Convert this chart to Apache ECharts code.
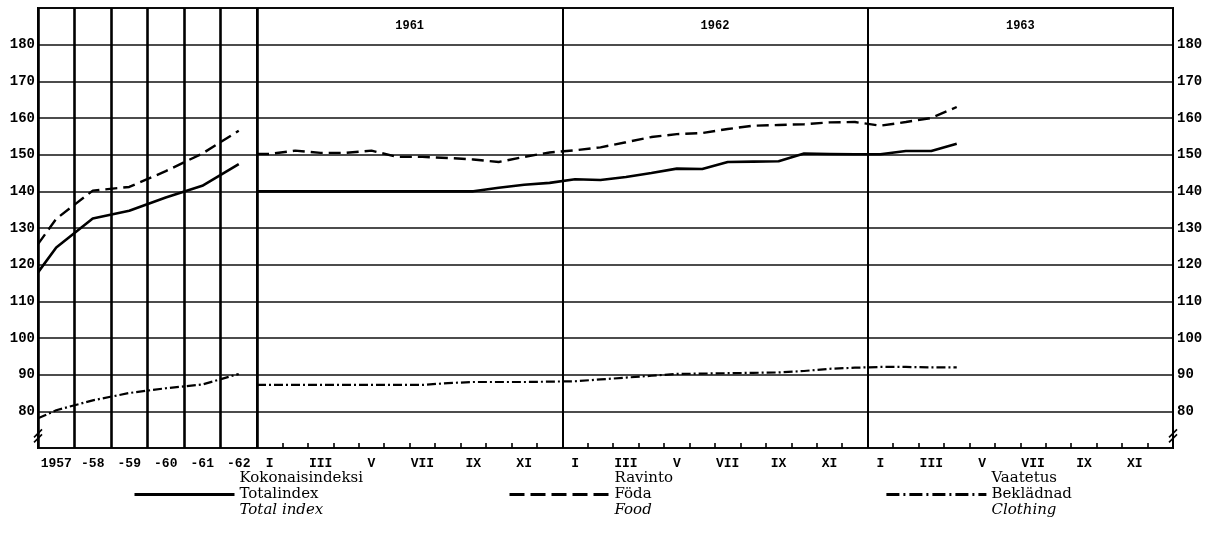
<!DOCTYPE html>
<html>
<head>
<meta charset="utf-8">
<script src="https://cdn.jsdelivr.net/npm/echarts@6/dist/echarts.min.js"></script>
<style>html,body{margin:0;padding:0;background:#fff}#c{width:1210px;height:534px}</style>
</head>
<body>
<div id="c"></div>
<script>
// ---- data ----
const years = ['1957', '-58', '-59', '-60', '-61', '-62'];
const monthNames = ['I','II','III','IV','V','VI','VII','VIII','IX','X','XI','XII'];
const topYears = ['1961', '1962', '1963'];
const yTickLabels = [80, 90, 100, 110, 120, 130, 140, 150, 160, 170, 180];

// annual values (plotted mid-year), with the value at the left edge
const totalStart = 117.9;
const totalAnnual = [124.7, 132.6, 134.7, 138.3, 141.5, 147.4];
const foodStart = 125.6;
const foodAnnual = [132.5, 140.2, 141.2, 145.5, 150.3, 156.5];
const clothStart = 78.1;
const clothAnnual = [80.3, 83.0, 85.0, 86.3, 87.3, 90.2];

// monthly values Jan 1961 .. Apr 1963 (plotted mid-month)
const totalMonthly = [
  140, 140, 140, 140, 140, 140, 140, 140, 140, 141, 141.8, 142.3,
  143.3, 143.1, 143.9, 145.0, 146.2, 146.1, 148.0, 148.1, 148.2, 150.3, 150.2, 150.1,
  150.1, 151.0, 151.0, 153.0
];
const foodMonthly = [
  150.2, 151.1, 150.5, 150.5, 151.1, 149.4, 149.4, 149.1, 148.7, 148.0, 149.4, 150.6,
  151.2, 152.0, 153.4, 154.8, 155.6, 155.9, 157.0, 157.9, 158.1, 158.3, 158.8, 158.9,
  157.9, 158.9, 160.0, 163.0
];
const clothMonthly = [
  87.2, 87.2, 87.2, 87.2, 87.2, 87.2, 87.2, 87.7, 88.0, 88.0, 88.0, 88.1,
  88.2, 88.7, 89.2, 89.7, 90.2, 90.3, 90.4, 90.5, 90.6, 91.0, 91.6, 91.9,
  92.1, 92.1, 92.0, 92.0
];

const legendText = {
  'Totalindex': ['Kokonaisindeksi', 'Totalindex', 'Total index'],
  'Föda': ['Ravinto', 'Föda', 'Food'],
  'Beklädnad': ['Vaatetus', 'Beklädnad', 'Clothing']
};

// ---- build ----
const monthCats = [];
for (let y = 0; y < 3; y++) monthNames.forEach(m => monthCats.push(m));

function annual(start, vals) {
  return [[0, start]].concat(vals.map((v, i) => [i + 0.5, v]));
}
function monthly(vals) {
  return [[0, vals[0]]].concat(vals.map((v, i) => [i + 0.5, v]));
}

const BLACK = '#111';
const monoFont = "'Liberation Mono', 'DejaVu Sans Mono', monospace";
const serifFont = "'DejaVu Serif', 'Liberation Serif', serif";

const styles = {
  'Totalindex': { type: 'solid', width: 2.6 },
  'Föda': { type: [12, 6], width: 2.4 },
  'Beklädnad': { type: [9, 3, 2, 3], width: 2.2 }
};
const legendStyles = {
  'Totalindex': { type: 'solid', width: 3 },
  'Föda': { type: [15, 6], width: 3 },
  'Beklädnad': { type: [13, 4, 2, 4], width: 2.8 }
};

function mkSeries(name, data, xi, yi) {
  return {
    name: name, type: 'line', data: data, xAxisIndex: xi, yAxisIndex: yi,
    symbol: 'none', showSymbol: false, smooth: false, animation: false,
    lineStyle: { color: '#000', width: styles[name].width, type: styles[name].type },
    itemStyle: { color: '#000' }
  };
}

const yLabel = {
  fontFamily: monoFont, fontSize: 14, fontWeight: 'bold', color: '#000',
  formatter: v => (yTickLabels.indexOf(v) >= 0 ? String(v) : '')
};

function legendFor(name, left) {
  return {
    data: [name], left: left, top: 466, orient: 'horizontal',
    itemWidth: 100, itemHeight: 14, selectedMode: false,
    itemStyle: { opacity: 0 },
    lineStyle: { width: legendStyles[name].width, type: legendStyles[name].type, color: '#000' },
    formatter: n => '{a|' + legendText[n][0] + '}\n{a|' + legendText[n][1] + '}\n{b|' + legendText[n][2] + '}',
    textStyle: {
      color: '#000',
      rich: {
        a: { fontFamily: serifFont, fontSize: 15, lineHeight: 16, color: '#000' },
        b: { fontFamily: serifFont, fontSize: 15, lineHeight: 16, fontStyle: 'italic', color: '#000' }
      }
    }
  };
}

const option = {
  backgroundColor: '#fff',
  animation: false,
  grid: [
    { left: 38, width: 219, top: 8, bottom: 86, show: true, borderColor: '#000', borderWidth: 2, backgroundColor: 'transparent' },
    { left: 257, right: 37, top: 8, bottom: 86, show: true, borderColor: '#000', borderWidth: 2, backgroundColor: 'transparent' }
  ],
  xAxis: [
    { // 0: annual labels
      type: 'category', gridIndex: 0, data: years, boundaryGap: true, position: 'bottom',
      axisLine: { show: false }, axisTick: { show: false },
      splitLine: { show: true, interval: 0, lineStyle: { color: '#000', width: 2.6 } },
      axisLabel: { interval: 0, margin: 9, fontFamily: monoFont, fontSize: 13, fontWeight: 'bold', color: '#000' }
    },
    { // 1: annual data
      type: 'value', gridIndex: 0, min: 0, max: 6, show: false
    },
    { // 2: month labels
      type: 'category', gridIndex: 1, data: monthCats, boundaryGap: true, position: 'bottom',
      axisLine: { show: false },
      axisTick: { show: true, inside: true, length: 5, interval: 0, lineStyle: { color: '#000', width: 1.6 } },
      splitLine: { show: true, interval: (i) => i % 12 === 0, lineStyle: { color: '#000', width: 2 } },
      axisLabel: { interval: 1, margin: 9, fontFamily: monoFont, fontSize: 13, fontWeight: 'bold', color: '#000' }
    },
    { // 3: monthly data
      type: 'value', gridIndex: 1, min: 0, max: 36, show: false
    },
    { // 4: year labels on top
      type: 'category', gridIndex: 1, data: topYears, boundaryGap: true, position: 'top',
      axisLine: { show: false }, axisTick: { show: false }, splitLine: { show: false },
      axisLabel: { inside: true, margin: 12, fontFamily: monoFont, fontSize: 12, fontWeight: 'bold', color: '#000' }
    }
  ],
  yAxis: [
    {
      type: 'value', gridIndex: 0, min: 70, max: 190, interval: 10, position: 'left',
      axisLine: { show: false }, axisTick: { show: false },
      splitLine: { show: true, lineStyle: { color: BLACK, width: 1.6 } },
      axisLabel: Object.assign({ margin: 3 }, yLabel)
    },
    {
      type: 'value', gridIndex: 1, min: 70, max: 190, interval: 10, position: 'right',
      axisLine: { show: false }, axisTick: { show: false },
      splitLine: { show: true, lineStyle: { color: BLACK, width: 1.6 } },
      axisLabel: Object.assign({ margin: 4 }, yLabel)
    }
  ],
  legend: [
    legendFor('Totalindex', 128),
    legendFor('Föda', 503),
    legendFor('Beklädnad', 880)
  ],
  series: [
    mkSeries('Totalindex', annual(totalStart, totalAnnual), 1, 0),
    mkSeries('Föda', annual(foodStart, foodAnnual), 1, 0),
    mkSeries('Beklädnad', annual(clothStart, clothAnnual), 1, 0),
    mkSeries('Totalindex', monthly(totalMonthly), 3, 1),
    mkSeries('Föda', monthly(foodMonthly), 3, 1),
    mkSeries('Beklädnad', monthly(clothMonthly), 3, 1)
  ]
};

const chart = echarts.init(document.getElementById('c'), null, { renderer: 'canvas' });
chart.setOption(option);

// axis-break marks on both vertical axes
const pl = chart.convertToPixel({ xAxisIndex: 1, yAxisIndex: 0 }, [0, 74]);
const pr = chart.convertToPixel({ xAxisIndex: 3, yAxisIndex: 1 }, [36, 74]);
function brk(p) {
  return [0, 5].map(d => ({
    type: 'line', silent: true,
    shape: { x1: p[0] - 4, y1: p[1] + 4 + d, x2: p[0] + 4, y2: p[1] - 4 + d },
    style: { stroke: '#000', lineWidth: 1.6 }
  }));
}
chart.setOption({ graphic: brk(pl).concat(brk(pr)) });
</script>
</body>
</html>
